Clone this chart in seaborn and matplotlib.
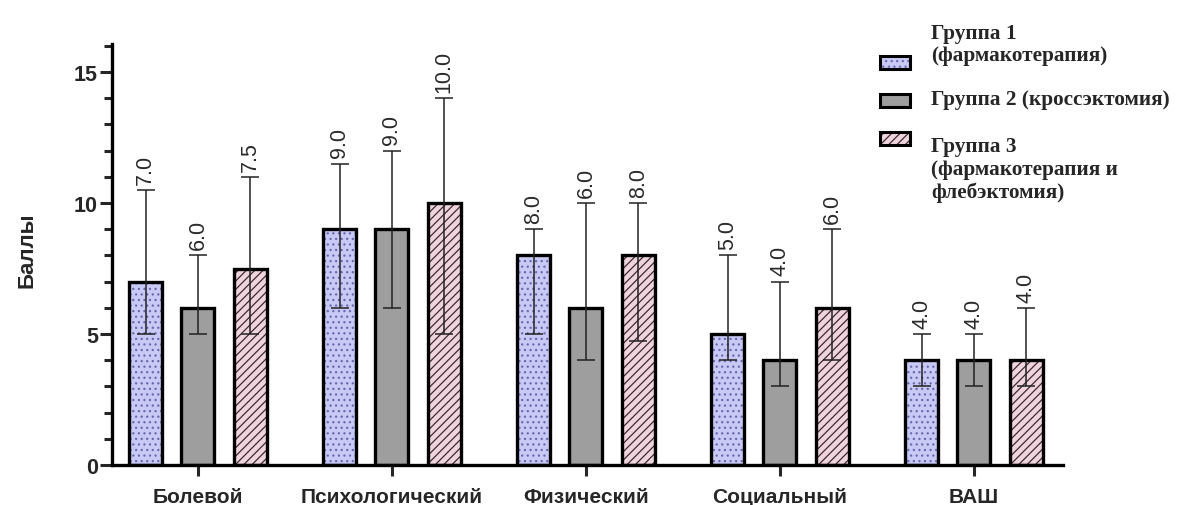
import numpy as np
import pandas as pd
import seaborn as sns
import matplotlib
matplotlib.use("Agg")
import matplotlib.pyplot as plt
from matplotlib.patches import Rectangle
from matplotlib.ticker import MultipleLocator

# ---------------- data ----------------
categories = ['Болевой', 'Психологический', 'Физический', 'Социальный', 'ВАШ']
groups = ['Группа 1\n(фармакотерапия)',
          'Группа 2 (кроссэктомия)',
          'Группа 3\n(фармакотерапия и\nфлебэктомия)']

g1_median = [7.0, 9.0, 8.0, 5.0, 4.0]
g1_q1 = [5.0, 6.0, 5.0, 4.0, 3.0]
g1_q3 = [10.5, 11.5, 9.0, 8.0, 5.0]

g2_median = [6.0, 9.0, 6.0, 4.0, 4.0]
g2_q1 = [5.0, 6.0, 4.0, 3.0, 3.0]
g2_q3 = [8.0, 12.0, 10.0, 7.0, 5.0]

g3_median = [7.5, 10.0, 8.0, 6.0, 4.0]
g3_q1 = [5.0, 5.0, 4.75, 4.0, 3.0]
g3_q3 = [11.0, 14.0, 10.0, 9.0, 6.0]

medians = [g1_median, g2_median, g3_median]
q1s = [g1_q1, g2_q1, g3_q1]
q3s = [g1_q3, g2_q3, g3_q3]

# ---------------- styles ----------------
fills = ['#C9C9F6', '#9E9E9E', '#F0D4DD']
hatch_colors = ['#6A6AAE', '#9E9E9E', '#3A2A32']
hatches = ['...', '', '////']

sns.set_style('ticks')
plt.rcParams['font.family'] = ['Liberation Sans', 'DejaVu Sans']
plt.rcParams['hatch.linewidth'] = 0.9

rows = []
for gi, g in enumerate(groups):
    for ci, c in enumerate(categories):
        rows.append({'cat': c, 'group': g, 'median': medians[gi][ci]})
df = pd.DataFrame(rows)

W, H = 1179, 506
fig = plt.figure(figsize=(W / 100, H / 100), dpi=100)
ax = fig.add_axes([112 / W, 1 - 466 / H, (1063 - 112) / W, (466 - 45) / H])

sns.barplot(data=df, x='cat', y='median', hue='group', order=categories,
            hue_order=groups, palette=fills, width=0.81, gap=0.37,
            errorbar=None, legend=False, ax=ax, zorder=2)

bar_containers = list(ax.containers)
for gi, cont in enumerate(bar_containers):
    for ci, bar in enumerate(cont.patches):
        bar.set_facecolor(fills[gi])
        bar.set_edgecolor(hatch_colors[gi])
        bar.set_hatch(hatches[gi])
        bar.set_linewidth(0)
        ax.add_patch(Rectangle((bar.get_x(), bar.get_y()), bar.get_width(),
                               bar.get_height(), fill=False, edgecolor='black',
                               linewidth=2.4, zorder=3))
        x = bar.get_x() + bar.get_width() / 2
        med = medians[gi][ci]
        lo = med - q1s[gi][ci]
        hi = q3s[gi][ci] - med
        ax.errorbar([x], [med], yerr=[[lo], [hi]], fmt='none', ecolor='#222222',
                    elinewidth=1.1, capsize=6.5, capthick=1.1, zorder=4)
        ax.annotate(f'{med:.1f}', xy=(x, q3s[gi][ci]), xytext=(0, 4.5),
                    textcoords='offset points', rotation=90, ha='center',
                    va='bottom', fontsize=15.5, color='#2a2a2a')

ax.set_xlim(-0.443, 4.459)
ax.set_ylim(0, 16.07)
ax.yaxis.set_major_locator(MultipleLocator(5))
ax.yaxis.set_minor_locator(MultipleLocator(1))

for s in ['top', 'right']:
    ax.spines[s].set_visible(False)
for s in ['left', 'bottom']:
    ax.spines[s].set_linewidth(2.4)
    ax.spines[s].set_color('black')

ax.tick_params(axis='y', which='major', length=9, width=2.2, pad=1,
               labelsize=15.5)
ax.tick_params(axis='y', which='minor', length=6, width=2.2)
ax.tick_params(axis='x', which='major', length=8, width=2.2, pad=8,
               labelsize=15)
for lab in ax.get_xticklabels() + ax.get_yticklabels():
    lab.set_fontweight('bold')

ax.set_xlabel('')
ax.set_ylabel('Баллы', fontsize=16, fontweight='bold')
ax.yaxis.set_label_coords(-0.078, 0.513)

# ---------------- legend (manual) ----------------
def fx(px):
    return px / W

def fy(py):
    return 1 - py / H

patch_tops = [57, 95, 133]
text_centers = [45, 100, 170]
for gi in range(3):
    r = Rectangle((fx(880), fy(patch_tops[gi] + 13)), fx(30), 13 / H,
                  transform=fig.transFigure, facecolor=fills[gi],
                  edgecolor=hatch_colors[gi], hatch=hatches[gi], linewidth=0)
    fig.add_artist(r)
    fig.add_artist(Rectangle((fx(880), fy(patch_tops[gi] + 13)), fx(30), 13 / H,
                             transform=fig.transFigure, fill=False,
                             edgecolor='black', linewidth=2.2))
    fig.text(fx(931), fy(text_centers[gi]), groups[gi], ha='left', va='center',
             fontsize=15.3, fontweight='bold', linespacing=1.2,
             family=['Liberation Serif', 'DejaVu Serif'])

fig.savefig('out.png', dpi=100)
